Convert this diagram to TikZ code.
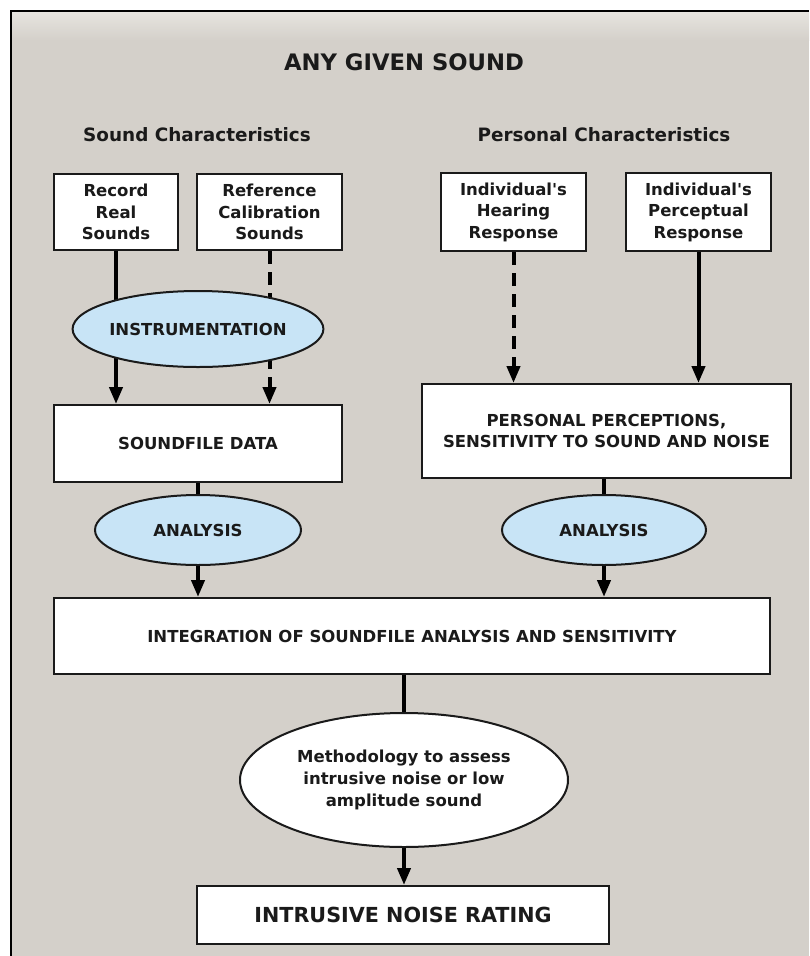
\documentclass[tikz,border=0pt]{standalone}
\usepackage{fontspec}
\setmainfont{DejaVu Sans}[Ligatures=TeXOff]
\usetikzlibrary{arrows.meta,shapes.geometric}
\definecolor{bggrey}{HTML}{D4D0CA}
\definecolor{bgtop}{HTML}{E6E4DF}
\definecolor{ellblue}{HTML}{C8E4F6}
\definecolor{ink}{HTML}{1A1A1A}
\pgfdeclarelayer{bottom}
\pgfdeclarelayer{mid}
\pgfsetlayers{bottom,mid,main}
\begin{document}
\begin{tikzpicture}[x=1pt,y=-1pt,
  txt/.style={font=\fontsize{16.5}{21.5}\selectfont\bfseries, text=ink, align=center},
  boxnode/.style={txt, draw=ink, line width=2pt, fill=white, rectangle, inner sep=0pt},
  ellnode/.style={txt, draw=ink, line width=2pt, fill=ellblue, ellipse, inner sep=0pt},
  headnode/.style={font=\fontsize{18.4}{22}\selectfont\bfseries, text=ink},
  arr/.style={line width=4pt, draw=black, -{Triangle[width=13pt,length=17pt]}},
  plainln/.style={line width=4pt, draw=black},
  dsh/.style={dash pattern=on 13pt off 8pt}]
\useasboundingbox (0,0) rectangle (809,956);
\begin{pgfonlayer}{bottom}
  \fill[white] (0,0) rectangle (809,956);
  \fill[bggrey] (10,10) rectangle (809,956);
  \shade[top color=bgtop, bottom color=bggrey] (11,12) rectangle (809,40);
  \draw[black, line width=2pt] (11,956) -- (11,11) -- (809,11);
\end{pgfonlayer}

\node[font=\fontsize{22.7}{27}\selectfont\bfseries, text=ink] (title) at (404,62) {ANY GIVEN SOUND};
\node[headnode] (hsound) at (197,135) {Sound Characteristics};
\node[headnode] (hpers) at (604,135) {Personal Characteristics};

\node[boxnode, minimum width=124pt, minimum height=76pt] (rec) at (116,212) {Record\\Real\\Sounds};
\node[boxnode, minimum width=145pt, minimum height=76pt] (ref) at (269.5,212) {Reference\\Calibration\\Sounds};
\node[boxnode, minimum width=145pt, minimum height=78pt] (hear) at (513.5,212) {Individual's\\Hearing\\Response};
\node[boxnode, minimum width=145pt, minimum height=78pt] (perc) at (698.5,212) {Individual's\\Perceptual\\Response};

\node[ellnode, minimum width=250pt, minimum height=76pt] (instr) at (198,329) {INSTRUMENTATION};
\node[boxnode, minimum width=288pt, minimum height=77pt] (sfd) at (198,443.5) {SOUNDFILE DATA};
\node[boxnode, minimum width=369pt, minimum height=94pt] (pp) at (606.5,431) {PERSONAL PERCEPTIONS,\\SENSITIVITY TO SOUND AND NOISE};

\node[ellnode, minimum width=206pt, minimum height=70pt] (an1) at (198,530) {ANALYSIS};
\node[ellnode, minimum width=204pt, minimum height=70pt] (an2) at (604,530) {ANALYSIS};

\node[boxnode, minimum width=716pt, minimum height=76pt] (integ) at (412,636) {INTEGRATION OF SOUNDFILE ANALYSIS AND SENSITIVITY};

\node[ellnode, fill=white, minimum width=328pt, minimum height=134pt, font=\fontsize{16.5}{22}\selectfont\bfseries] (meth) at (404,780) {Methodology to assess\\intrusive noise or low\\amplitude sound};

\node[boxnode, minimum width=412pt, minimum height=58pt, font=\fontsize{20.7}{25}\selectfont\bfseries] (final) at (403,915) {INTRUSIVE NOISE RATING};

\begin{pgfonlayer}{mid}
  \draw[arr] (rec.south) -- (rec.south |- sfd.north);
  \draw[arr, dsh] (ref.south) -- (ref.south |- sfd.north);
  \draw[arr, dsh] (hear.south) -- (hear.south |- pp.north);
  \draw[arr] (perc.south) -- (perc.south |- pp.north);
  \draw[plainln] (sfd.south) -- (an1.north);
  \draw[arr] (an1.south) -- (an1.south |- integ.north);
  \draw[plainln] (an2.north |- pp.south) -- (an2.north);
  \draw[arr] (an2.south) -- (an2.south |- integ.north);
  \draw[plainln] (meth.north |- integ.south) -- (meth.north);
  \draw[arr] (meth.south) -- (meth.south |- final.north);
\end{pgfonlayer}
\end{tikzpicture}
\end{document}
